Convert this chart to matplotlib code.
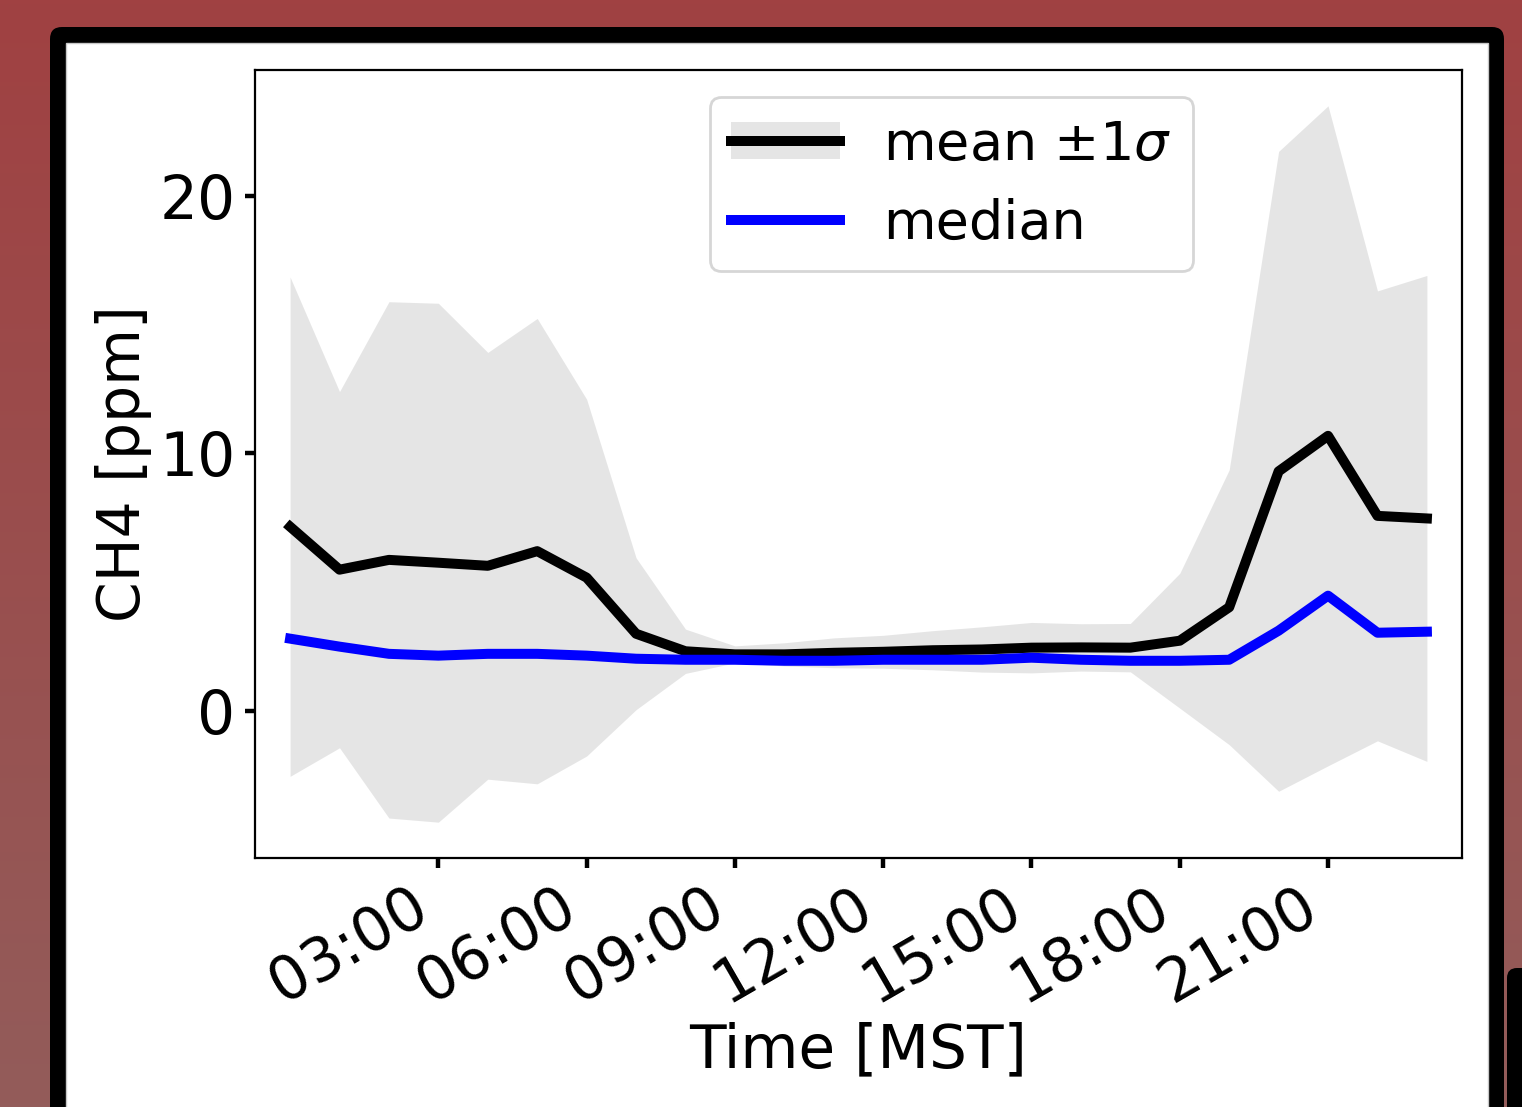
import matplotlib.pyplot as plt
import numpy as np
from matplotlib.patches import FancyBboxPatch, Rectangle, Patch
from matplotlib.lines import Line2D

# Hourly data (MST)
hours = list(range(24))
ch4_mean = [7.15, 5.48, 5.86, 5.75, 5.63, 6.20, 5.17, 2.99, 2.31, 2.19,
            2.19, 2.25, 2.29, 2.35, 2.38, 2.45, 2.46, 2.45, 2.72, 4.02,
            9.30, 10.68, 7.57, 7.47]
ch4_std = [9.70, 6.92, 10.03, 10.08, 8.29, 9.04, 6.93, 2.95, 0.86, 0.33,
           0.45, 0.58, 0.64, 0.76, 0.88, 0.98, 0.92, 0.94, 2.62, 5.34,
           12.43, 12.82, 8.74, 9.44]
ch4_median = [2.80, 2.49, 2.21, 2.14, 2.21, 2.21, 2.14, 2.02, 1.98, 1.98,
              1.94, 1.94, 1.98, 1.98, 1.98, 2.06, 1.98, 1.94, 1.94, 1.98,
              3.11, 4.47, 3.03, 3.07]
tick_hours = [3, 6, 9, 12, 15, 18, 21]
tick_labels = ['03:00', '06:00', '09:00', '12:00', '15:00', '18:00', '21:00']

x = np.array(hours)
mean = np.array(ch4_mean)
std = np.array(ch4_std)
med = np.array(ch4_median)

W, H = 1522, 1107
fig = plt.figure(figsize=(W / 200, H / 200), dpi=200)

# Screenshot background: red gradient, black rounded frame, white page
bg = fig.add_axes([0, 0, 1, 1], zorder=0)
top = np.array([160, 65, 66]) / 255
bot = np.array([147, 92, 90]) / 255
t = np.linspace(0, 1, 256)[:, None, None]
grad = top * (1 - t) + bot * t
bg.imshow(grad, extent=[0, W, H, 0], aspect='auto')
bg.add_patch(FancyBboxPatch((50, 27), 1454, 1200,
                            boxstyle='round,pad=0,rounding_size=12',
                            fc='black', ec='none'))
bg.add_patch(Rectangle((66, 43), 1422, 1100, fc='white', ec='#c8c8c8', lw=0.5))
bg.add_patch(FancyBboxPatch((1507, 968), 60, 200,
                            boxstyle='round,pad=0,rounding_size=10',
                            fc='black', ec='none'))
bg.set_xlim(0, W)
bg.set_ylim(H, 0)
bg.axis('off')

# Main plot
ax = fig.add_axes([255 / W, 1 - 858 / H, 1207 / W, 788 / H], zorder=1)
ax.fill_between(x, mean - std, mean + std, color='gray', alpha=0.2, lw=0)
ax.plot(x, mean, color='black', lw=3.6)
ax.plot(x, med, color='blue', lw=3.6)

ax.set_xlim(-0.71, 23.71)
ax.set_xticks(tick_hours)
ax.set_xticklabels(tick_labels, rotation=30, ha='right')
ax.set_yticks([0, 10, 20])
ax.tick_params(labelsize=21.5, width=1.6, length=3.5)
ax.set_xlabel('Time [MST]', fontsize=21.5, labelpad=2.5)
ax.set_ylabel('CH4 [ppm]', fontsize=21, labelpad=2.5)

h_mean = (Patch(color='gray', alpha=0.2, lw=0), Line2D([], [], color='black', lw=3.6))
h_med = Line2D([], [], color='blue', lw=3.6)
ax.legend([h_mean, h_med], [r'mean $\pm1\sigma$', 'median'], fontsize=19.5,
          loc='upper right', bbox_to_anchor=(0.777, 0.966), borderaxespad=0)

fig.savefig('out.png', dpi=200)
